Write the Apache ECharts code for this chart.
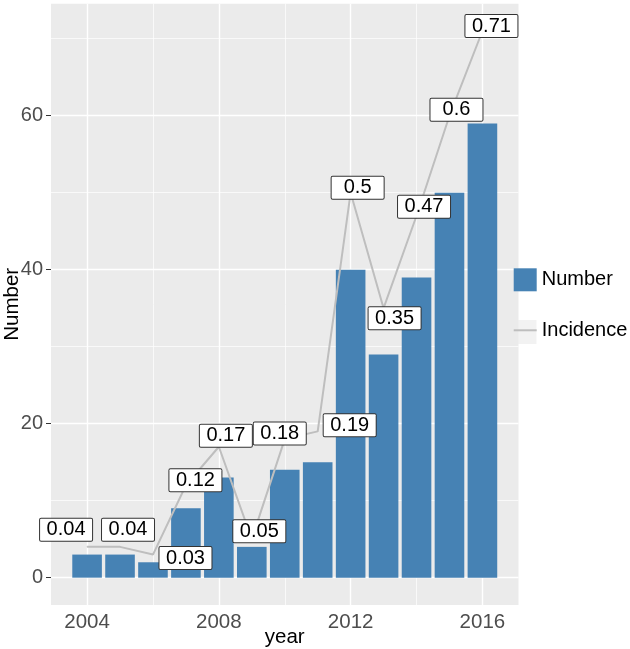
<!DOCTYPE html>
<html><head><meta charset="utf-8">
<script src="https://cdn.jsdelivr.net/npm/echarts@6/dist/echarts.min.js"></script>
<style>html,body{margin:0;padding:0;background:#fff}#c{width:630px;height:649px}</style>
</head><body><div id="c"></div>
<script>
const years = [2004, 2005, 2006, 2007, 2008, 2009, 2010, 2011, 2012, 2013, 2014, 2015, 2016];
const numbers = [3, 3, 2, 9, 13, 4, 14, 15, 40, 29, 39, 50, 59];
const incidence = [0.04, 0.04, 0.03, 0.12, 0.17, 0.05, 0.18, 0.19, 0.5, 0.35, 0.47, 0.6, 0.71];
const xTicks = [2004, 2008, 2012, 2016];
const xMinor = [2006, 2010, 2014];
const yTicks = [0, 20, 40, 60];
const yMinor = [10, 30, 50, 70];
// label box offsets (px) relative to each point, like ggrepel placement
const labelOffsets = [[-21,-17],[8,-17],[32.5,3.5],[9.5,-5],[7,-11],[7.5,-8],[-5,-5.5],[32,-6],[7,-5],[11,10],[7.5,-9],[7,-6],[9,-5]];

const FONT = 'Liberation Sans';
const major = {color:'#FFFFFF', width:1.4, type:'solid'};
const minor = {color:'#FFFFFF', width:0.7, type:'solid'};
const gridLines = [].concat(
  xMinor.map(v => ({xAxis: v, lineStyle: minor})),
  yMinor.map(v => ({yAxis: v, lineStyle: minor})),
  xTicks.map(v => ({xAxis: v, lineStyle: major})),
  yTicks.map(v => ({yAxis: v, lineStyle: major}))
);

const chart = echarts.init(document.getElementById('c'), null, {renderer:'canvas'});
chart.setOption({
  animation: false,
  textStyle: {fontFamily: FONT},
  grid: {left: 51, right: 111.5, top: 3.66, bottom: 44, show: true, backgroundColor: '#EBEBEB', borderWidth: 0, containLabel: false, outerBoundsMode: 'none'},
  xAxis: {
    type: 'value', min: 2002.905, max: 2017.095,
    splitLine: {show: false},
    axisLine: {show: false},
    axisTick: {show: true, customValues: xTicks, length: 5, lineStyle: {color: '#333333', width: 1}},
    axisLabel: {customValues: xTicks, formatter: v => String(v), color: '#4D4D4D', fontSize: 20.5, margin: 7, fontFamily: FONT},
    name: 'year', nameLocation: 'middle', nameGap: 22, nameMoveOverlap: false,
    nameTextStyle: {color: '#000', fontSize: 20.5, fontFamily: FONT}
  },
  yAxis: {
    type: 'value', min: -3.55, max: 74.55,
    splitLine: {show: false},
    axisLine: {show: false},
    axisTick: {show: true, customValues: yTicks, length: 5, lineStyle: {color: '#333333', width: 1}},
    axisLabel: {customValues: yTicks, formatter: v => String(v), color: '#4D4D4D', fontSize: 20, margin: 8, fontFamily: FONT},
    name: 'Number', nameLocation: 'middle', nameGap: 28, nameMoveOverlap: false,
    nameTextStyle: {color: '#000', fontSize: 20.5, fontFamily: FONT}
  },
  legend: {
    orient: 'vertical', left: 512.7, top: 268.3, padding: 0,
    itemWidth: 23, itemHeight: 23, itemGap: 29, selectedMode: false,
    textStyle: {color: '#000', fontSize: 20, fontFamily: FONT},
    data: [{name: 'Number', icon: 'rect'}, {name: 'Incidence', itemStyle: {opacity: 0}}]
  },
  graphic: [{type: 'rect', left: 512.5, top: 320, shape: {width: 24, height: 24}, style: {fill: '#F2F2F2'}, z: -1, silent: true}],
  series: [
    {
      name: 'Number', type: 'bar', z: 2,
      data: years.map((y, i) => [y, numbers[i]]),
      barWidth: 29.6,
      itemStyle: {color: '#4682B4'},
      markLine: {silent: true, z: 1, symbol: ['none', 'none'], label: {show: false}, data: gridLines}
    },
    {
      name: 'Incidence', type: 'line', z: 3,
      data: years.map((y, i) => [y, incidence[i] * 100]),
      symbol: 'circle', symbolSize: 1,
      itemStyle: {color: '#BEBEBE'},
      lineStyle: {color: '#BEBEBE', width: 2},
      label: {
        show: true, position: 'inside',
        formatter: p => String(incidence[p.dataIndex]),
        backgroundColor: '#FFFFFF', borderColor: '#333333', borderWidth: 1, borderRadius: 1,
        padding: [1, 6, 1, 6], width: 40, align: 'center', verticalAlign: 'middle',
        fontSize: 20, lineHeight: 20, color: '#000', fontFamily: FONT
      },
      labelLayout: p => ({dx: labelOffsets[p.dataIndex][0], dy: labelOffsets[p.dataIndex][1], hideOverlap: false})
    }
  ]
});
</script></body></html>
